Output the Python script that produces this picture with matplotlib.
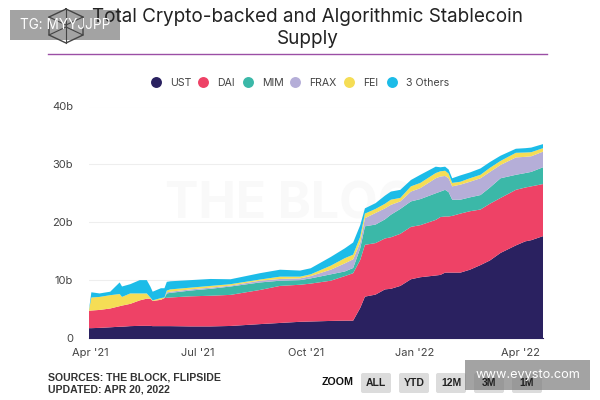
import numpy as np
import pandas as pd
import matplotlib
matplotlib.use('Agg')
import matplotlib.pyplot as plt
from matplotlib.patches import FancyBboxPatch, Rectangle

plt.rcParams['font.family'] = ['Inter', 'DejaVu Sans']

dates = pd.to_datetime([
    '2021-03-31', '2021-04-02', '2021-04-09', '2021-04-18', '2021-04-26', '2021-04-28',
    '2021-05-05', '2021-05-13', '2021-05-19', '2021-05-22', '2021-05-24', '2021-05-31',
    '2021-06-03', '2021-06-05', '2021-06-08', '2021-06-25', '2021-07-12', '2021-07-29',
    '2021-08-23', '2021-09-09', '2021-09-26', '2021-10-05', '2021-10-22', '2021-11-03',
    '2021-11-10', '2021-11-16', '2021-11-20', '2021-11-29', '2021-12-07', '2021-12-12',
    '2021-12-20', '2021-12-29', '2022-01-06', '2022-01-19', '2022-01-23', '2022-01-27',
    '2022-01-30', '2022-02-02', '2022-02-09', '2022-02-17', '2022-02-26', '2022-03-06',
    '2022-03-15', '2022-03-28', '2022-04-05', '2022-04-10', '2022-04-20'])

ust = [1.7, 1.7, 1.75, 1.85, 1.95, 1.95, 2.05, 2.1, 2.1, 2.1, 2.05, 2.05,
       2.05, 2.05, 2.05, 2.0, 2.0, 2.08, 2.4, 2.6, 2.8, 2.85, 2.95, 3.0,
       3.0, 5.2, 7.15, 7.5, 8.4, 8.5, 9.0, 10.15, 10.5, 10.8, 10.9, 11.3,
       11.3, 11.3, 11.3, 11.8, 12.6, 13.4, 14.7, 16.0, 16.7, 16.9, 17.6]
dai = [3.0, 3.05, 3.1, 3.25, 3.55, 3.65, 3.85, 4.4, 4.7, 4.7, 4.35, 4.55,
       4.85, 4.9, 4.95, 5.2, 5.3, 5.37, 5.9, 6.4, 6.4, 6.55, 6.95, 7.7,
       8.2, 8.3, 8.95, 8.9, 8.8, 8.9, 9.0, 9.05, 9.0, 9.6, 10.0, 9.7,
       9.7, 9.8, 10.2, 10.1, 9.6, 9.8, 9.5, 9.6, 9.3, 9.3, 9.0]
mim = [0, 0, 0, 0, 0, 0, 0, 0, 0, 0, 0, 0,
       0, 0.75, 0.8, 1.0, 1.2, 1.45, 1.3, 0.9, 0.8, 0.9, 1.1, 0.8,
       0.9, 2.0, 3.2, 3.2, 3.3, 3.9, 4.3, 4.4, 4.5, 4.6, 4.4, 4.6,
       4.2, 2.8, 2.4, 2.4, 2.5, 2.8, 3.4, 2.6, 2.5, 2.5, 2.9]
frax = [0, 0, 0, 0, 0, 0, 0, 0, 0, 0, 0, 0,
        0, 0.2, 0.2, 0.2, 0.2, 0.15, 0.3, 0.3, 0.3, 0.4, 0.8, 1.4,
        1.5, 1.0, 1.4, 2.0, 1.9, 1.7, 1.3, 1.7, 1.9, 2.6, 2.6, 2.4,
        2.4, 2.3, 2.6, 2.7, 2.9, 2.7, 2.3, 3.0, 2.8, 2.7, 2.7]
fei = [0.1, 2.25, 2.25, 2.3, 2.1, 1.5, 1.8, 1.2, 0.9, 0.2, 0.1, 0.3,
       0.1, 0.3, 0.4, 0.3, 0.3, 0.25, 0.2, 0.4, 0.3, 0.3, 0.7, 0.9,
       0.8, 1.0, 0.8, 0.7, 0.8, 0.9, 0.6, 0.9, 0.9, 0.9, 0.9, 0.9,
       0.8, 0.6, 0.5, 0.6, 0.6, 0.7, 0.7, 0.8, 0.75, 0.7, 0.6]
others = [0.1, 0.9, 0.6, 0.6, 2.0, 1.8, 1.6, 2.3, 2.3, 1.9, 1.5, 1.7,
          1.6, 1.5, 1.4, 1.3, 1.2, 0.85, 1.1, 1.2, 1.05, 1.05, 1.5, 1.7,
          2.1, 2.0, 0.9, 1.0, 1.4, 1.4, 1.4, 1.1, 1.4, 1.1, 0.7, 0.7,
          0.7, 0.8, 1.1, 1.0, 1.1, 1.0, 0.9, 0.7, 0.75, 0.8, 0.7]

names = ['UST', 'DAI', 'MIM', 'FRAX', 'FEI', '3 Others']
colors = ['#2a2160', '#ee4266', '#3bb8a8', '#b5aed8', '#f5dd55', '#1cbce8']

tick_dates = pd.to_datetime(['2021-04-01', '2021-07-01', '2021-10-01', '2022-01-01', '2022-04-01'])
tick_labels = ["Apr '21", "Jul '21", "Oct '21", "Jan '22", "Apr '22"]
y_ticks = [0, 10, 20, 30, 40]
y_labels = ['0', '10b', '20b', '30b', '40b']

W, H = 600, 400
fig = plt.figure(figsize=(6, 4), dpi=100, facecolor='white')

# capa en pixeles para textos y adornos
bg = fig.add_axes([0, 0, 1, 1], zorder=0)
bg.set_xlim(0, W)
bg.set_ylim(H, 0)
bg.axis('off')

bg.text(308, 205, 'THE BLOCK', fontsize=36, fontweight='bold', color='#f9f9f9', ha='center', va='center')

ax = fig.add_axes([89 / W, (H - 338) / H, 454 / W, 231.5 / H], zorder=1)
ax.patch.set_alpha(0)
ax.stackplot(dates, ust, dai, mim, frax, fei, others, colors=colors, linewidth=0)
ax.set_xlim(dates[0], dates[-1])
ax.set_ylim(0, 40)
ax.set_yticks(y_ticks, y_labels)
ax.set_xticks(tick_dates, tick_labels)
ax.tick_params(axis='both', length=0, labelsize=8, labelcolor='#444444')
ax.tick_params(axis='x', pad=7)
ax.tick_params(axis='y', pad=11.5)
ax.grid(axis='y', color='#eeeeee', linewidth=0.8)
ax.set_axisbelow(True)
for s in ['top', 'right', 'left']:
    ax.spines[s].set_visible(False)
ax.spines['bottom'].set_color('#2a2160')
ax.spines['bottom'].set_linewidth(0.8)

# overlay encima del grafico
top = fig.add_axes([0, 0, 1, 1], zorder=2)
top.set_xlim(0, W)
top.set_ylim(H, 0)
top.axis('off')

top.text(308, 17, 'Total Crypto-backed and Algorithmic Stablecoin', fontsize=13.6, color='#222222', ha='center', va='center')
top.text(308, 39, 'Supply', fontsize=13.6, color='#222222', ha='center', va='center')
top.plot([48, 547], [54, 54], color='#9b4fa5', linewidth=1)

# leyenda
dot_x = [156, 203, 248, 295, 349, 392]
for name, color, x in zip(names, colors, dot_x):
    top.scatter([x], [82], s=62, color=color, linewidths=0)
    top.text(x + 14, 83, name, fontsize=7.6, color='#444444', ha='left', va='center')

top.text(48, 377, 'SOURCES: THE BLOCK, FLIPSIDE', fontsize=7.6, fontweight='bold', color='#333333', va='center', family='Liberation Sans')
top.text(48, 390, 'UPDATED: APR 20, 2022', fontsize=7.6, fontweight='bold', color='#333333', va='center', family='Liberation Sans')

# botones de zoom
top.text(338, 382, 'ZOOM', fontsize=7.7, fontweight='bold', color='#111111', ha='center', va='center', family='Liberation Sans')
for lab, x0 in zip(['ALL', 'YTD', '12M', '3M', '1M'], [360, 398, 435, 473, 511]):
    top.add_patch(FancyBboxPatch((x0 + 1, 373), 30, 20, boxstyle='round,pad=0,rounding_size=2', facecolor='#dcdcdc', edgecolor='none'))
    top.text(x0 + 16, 383.5, lab, fontsize=7.5, fontweight='bold', color='#222222', ha='center', va='center', family='Liberation Sans')

# logo
hex_x = [66, 83, 83, 66, 49, 49, 66]
hex_y = [9, 17, 35, 43, 35, 17, 9]
top.plot(hex_x, hex_y, color='#444444', linewidth=1)
top.plot([49, 66, 83], [17, 25, 17], color='#444444', linewidth=0.8)
top.plot([49, 66, 83], [35, 27, 35], color='#444444', linewidth=0.8)
top.plot([66, 66], [9, 43], color='#444444', linewidth=0.8)

# marcas de agua
top.add_patch(Rectangle((10, 10), 110, 30, facecolor='#808080', alpha=0.72, edgecolor='none'))
top.text(65, 25, 'TG: MYYJJPP', fontsize=9.8, color='white', ha='center', va='center')
top.add_patch(Rectangle((465, 360), 125, 30, facecolor='#808080', alpha=0.72, edgecolor='none'))
top.text(527.5, 375, 'www.evysto.com', fontsize=9.2, color='white', ha='center', va='center')

fig.savefig('out.png', dpi=100)
